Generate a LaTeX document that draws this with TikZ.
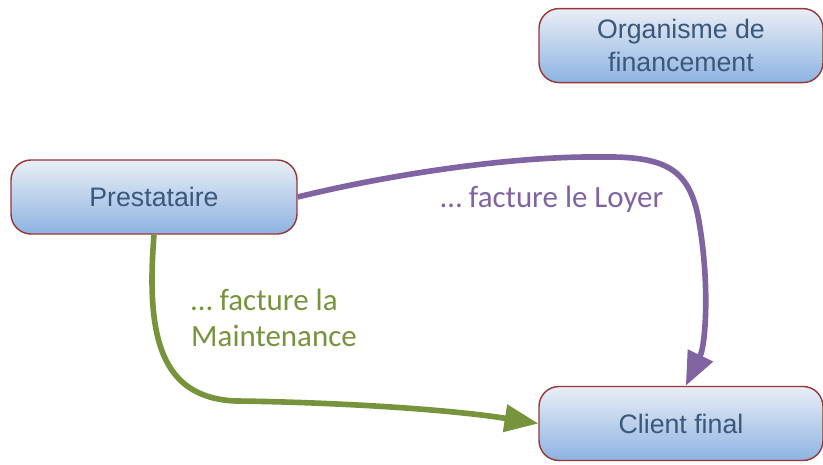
\documentclass[tikz,border=0pt]{standalone}
\usepackage{fontspec}
\setmainfont{Liberation Sans}
\newfontfamily\labelfont{Carlito}
\usetikzlibrary{arrows.meta}
\definecolor{boxedge}{RGB}{149,55,53}
\definecolor{boxtop}{RGB}{233,238,246}
\definecolor{boxbottom}{RGB}{141,179,226}
\definecolor{boxtext}{RGB}{59,87,122}
\definecolor{loyer}{RGB}{128,100,162}
\definecolor{maint}{RGB}{119,147,60}
\begin{document}
\begin{tikzpicture}[
    actor/.style={draw=boxedge, line width=1pt, rounded corners=0.5cm,
      top color=boxtop, bottom color=boxbottom, text=boxtext,
      minimum width=7.1cm, minimum height=1.85cm, align=center,
      font=\fontsize{19}{23}\selectfont},
    flow/.style={line width=4pt, -{Triangle[length=24pt,width=19pt]}},
    flowtext/.style={font=\labelfont\fontsize{22}{26}\selectfont, align=left}
  ]
      \useasboundingbox (0,0) rectangle (20.575,11.6);
      \node[actor, minimum width=7.15cm] (pres) at (3.85,6.675) {Prestataire};
      \node[actor] (orga) at (17.025,10.46) {Organisme de\\financement};
      \node[actor] (client) at (17.025,1.0125) {Client final};
      \draw[flow, loyer] (pres.east) .. controls (10,7.3) and (13,7.7) .. (15,7.675)
            .. controls (16.6,7.7) and (17.2,7.4) .. (17.45,6.2)
            .. controls (17.75,4.6) and (17.65,3) .. ([xshift=0.12cm]client.north);
      \draw[flow, maint] (pres.south) .. controls (3.65,3.2) and (4.0,1.65) .. (5.9,1.575)
            .. controls (8,1.55) and (11,1.4) .. (client.west);
      \node[flowtext, text=loyer] (loyertxt) at (13.8,6.625) {… facture le Loyer};
      \node[flowtext, text=maint] (mainttxt) at (6.85,3.65) {… facture la\\Maintenance};
\end{tikzpicture}
\end{document}
